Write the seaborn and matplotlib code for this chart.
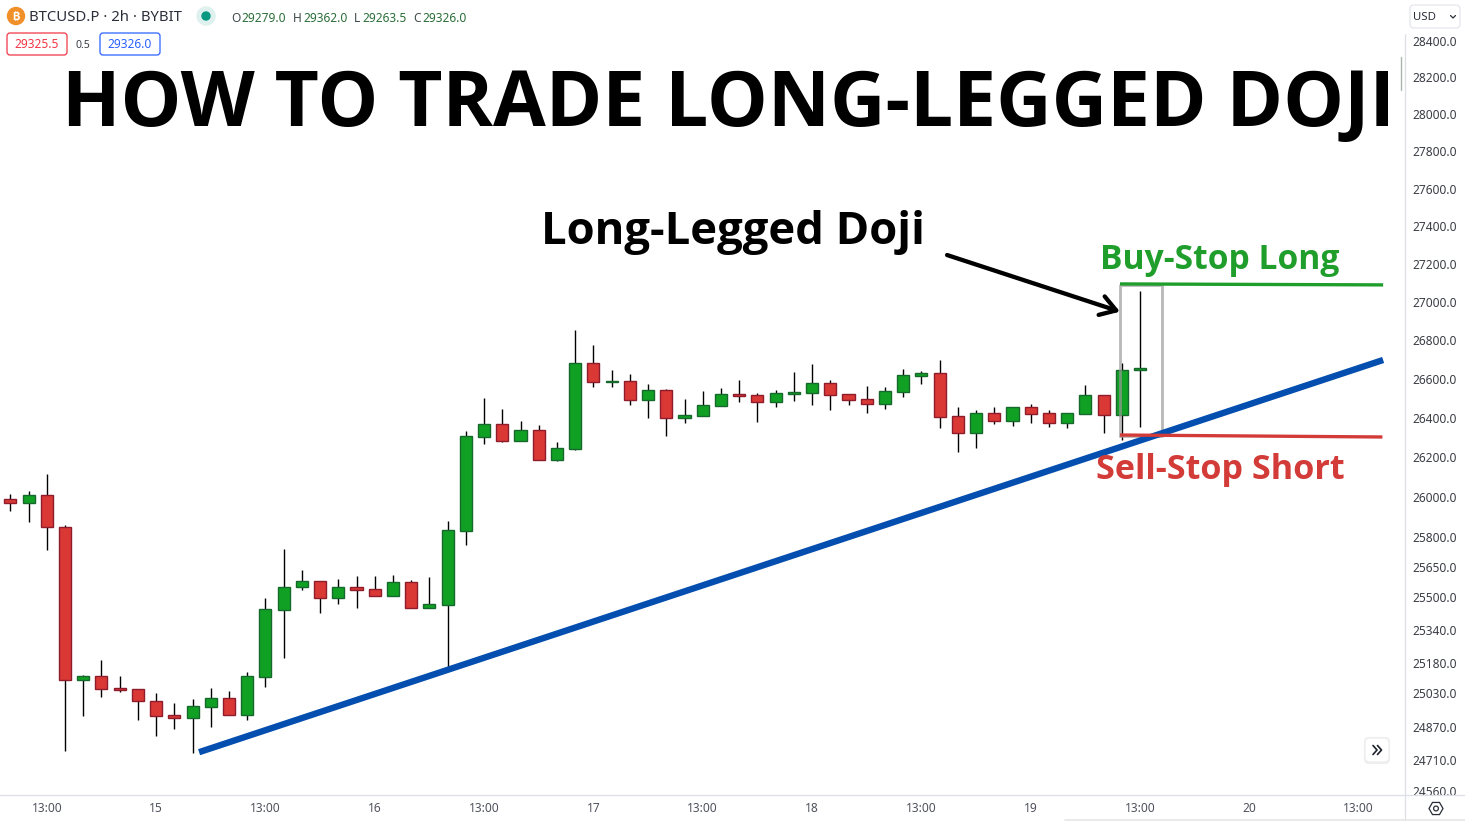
import matplotlib
matplotlib.use("Agg")
import matplotlib.pyplot as plt
from matplotlib.patches import FancyBboxPatch, Circle, RegularPolygon, Rectangle
import numpy as np
import seaborn as sns

# 2h candles, BTCUSD.P
opens = [25989, 25971.5, 26009, 25848.5, 25097, 25113, 25055, 25050, 24992, 24924, 24913, 24966, 25006, 24927, 25111, 25439,
         25550, 25580, 25495, 25550, 25540, 25505, 25575, 25446, 25464, 25831.5, 26306, 26369, 26285.5, 26338.5, 26189, 26245,
         26682, 26588, 26589.5, 26495, 26542, 26403, 26413, 26464, 26524, 26517, 26484, 26525, 26531, 26579, 26522, 26497,
         26474, 26536, 26618, 26631, 26410, 26326, 26425, 26387, 26456, 26425, 26377, 26423, 26517, 26418, 26646]
highs = [26015, 26031, 26117, 25860, 25119.5, 25192.5, 25116, 25050, 25032, 24983.5, 25003, 25056, 25041, 25134, 25497, 25740,
         25636, 25580, 25591, 25606, 25606, 25611, 25586, 25601, 25880, 26335, 26503, 26447, 26386, 26365.5, 26279, 26855,
         26777, 26648, 26627, 26575, 26549, 26498, 26539, 26555, 26596, 26529, 26545, 26637, 26679, 26596, 26522, 26565,
         26560, 26653, 26643, 26699, 26457, 26442, 26457, 26456, 26473, 26442, 26425, 26570, 26517, 26684, 27058]
lows = [25931.5, 25876.5, 25736.5, 24753.5, 24922, 25014, 25038, 24903, 24826, 24860, 24744, 24869, 24927, 24903, 25063, 25204,
        25534, 25424.5, 25469, 25449, 25505, 25505, 25446, 25446, 25157, 25761.5, 26270, 26280, 26285.5, 26189, 26184, 26240,
        26562, 26562, 26469, 26403, 26311, 26377, 26413, 26464, 26484, 26382, 26459, 26489, 26469, 26444, 26469, 26428,
        26449, 26510, 26577, 26352, 26229, 26250, 26372, 26362, 26377, 26357, 26352, 26423, 26326, 26289, 26357]
closes = [25971.5, 26009, 25848.5, 25097, 25113, 25053, 25048, 24992, 24922, 24913, 24968, 25006, 24927, 25113, 25441, 25550,
          25580, 25495, 25550, 25538, 25505, 25575, 25446, 25466, 25833.5, 26308, 26369, 26285.5, 26338.5, 26189, 26247, 26682,
          26588, 26591, 26495, 26542, 26403, 26415, 26466, 26523, 26514, 26484, 26527, 26534, 26579, 26520, 26495, 26474,
          26538, 26620, 26631, 26408, 26326, 26425, 26387, 26456, 26423, 26377, 26425, 26517, 26418, 26646, 26657]

price_ticks = [28400, 28200, 28000, 27800, 27600, 27400, 27200, 27000, 26800, 26600, 26400, 26200, 26000,
               25800, 25650, 25500, 25340, 25180, 25030, 24870, 24710, 24560]
time_ticks = [2, 8, 14, 20, 26, 32, 38, 44, 50, 56, 62, 68, 74]
time_labels = ["13:00", "15", "13:00", "16", "13:00", "17", "13:00", "18", "13:00", "19", "13:00", "20", "13:00"]

# drawn lines (candle index, price)
trend_x = [10.36, 75.34]
trend_y = [24747, 26699]
buy_x = [60.9, 75.34]
buy_y = [27095, 27090]
sell_x = [60.9, 75.3]
sell_y = [26314, 26304]
box_x = [60.9, 60.9, 63.2, 63.2, 60.9]
box_y = [26309, 27090, 27090, 26309, 26309]

GREEN = "#10a023"
GREEN_EDGE = "#17682c"
RED = "#d93835"
RED_EDGE = "#8e1c2b"
FONT = ["Noto Sans", "DejaVu Sans"]
BOLD = ["Open Sans", "DejaVu Sans"]

sns.set_theme(style="white")
plt.rcParams["font.family"] = FONT

W, H = 1465, 821
fig = plt.figure(figsize=(W / 100, H / 100), dpi=100, facecolor="white")
ax = fig.add_axes([0, (H - 795) / H, 1405 / W, 795 / H])

idx = np.arange(len(opens))
opens_a = np.array(opens)
closes_a = np.array(closes)
up = closes_a >= opens_a

ax.vlines(idx, lows, highs, color="black", linewidth=1.0, zorder=2)
body_bottom = np.minimum(opens_a, closes_a)
body_height = np.abs(closes_a - opens_a)
ax.bar(idx[up], body_height[up], bottom=body_bottom[up], width=0.66, color=GREEN,
       edgecolor=GREEN_EDGE, linewidth=1.0, zorder=3)
ax.bar(idx[~up], body_height[~up], bottom=body_bottom[~up], width=0.66, color=RED,
       edgecolor=RED_EDGE, linewidth=1.0, zorder=3)

sns.lineplot(x=box_x, y=box_y, sort=False, estimator=None, color="#9a9a9a", alpha=0.7, linewidth=2.0, ax=ax, zorder=4)
sns.lineplot(x=trend_x, y=trend_y, color="#034eae", linewidth=4.6, ax=ax, zorder=5, solid_capstyle="butt")
sns.lineplot(x=buy_x, y=buy_y, color="#1f9e2c", linewidth=2.4, ax=ax, zorder=5, solid_capstyle="butt")
sns.lineplot(x=sell_x, y=sell_y, color="#d23b38", linewidth=2.4, ax=ax, zorder=6, solid_capstyle="butt")
ax.annotate("", xy=(60.9, 26950), xytext=(51.41, 27247),
            arrowprops=dict(arrowstyle="->,head_length=0.55,head_width=0.35", color="black", lw=3.1,
                            shrinkA=0, shrinkB=0, mutation_scale=20), zorder=7)

ax.set_yscale("log")
ax.set_xlim(-0.565, 76.54)
ax.set_ylim(24542.7, 28626)
ax.yaxis.tick_right()
ax.set_yticks(price_ticks)
ax.set_yticklabels([f"{p:.1f}" for p in price_ticks])
ax.minorticks_off()
ax.set_xticks(time_ticks)
ax.set_xticklabels(time_labels)
ax.set_xlabel("")
ax.set_ylabel("")
ax.tick_params(axis="y", length=0, pad=5.6, labelsize=8.6, labelcolor="#3a3d45")
ax.tick_params(axis="x", length=0, pad=5.1, labelsize=8.6, labelcolor="#50535e")
for side in ["top", "left"]:
    ax.spines[side].set_visible(False)
for side in ["right", "bottom"]:
    ax.spines[side].set_color("#dcdfe6")
    ax.spines[side].set_linewidth(0.9)

# overlay in pixel coordinates for header, captions and buttons
ov = fig.add_axes([0, 0, 1, 1], facecolor="none")
ov.set_xlim(0, W)
ov.set_ylim(H, 0)
ov.axis("off")

ov.add_patch(Rectangle((1403, 0), 6, 33, color="white", zorder=1))
ov.add_patch(Rectangle((1406, 795.8), 60, 26, color="white", zorder=1))
ov.plot([1405, 1405], [795, 821], color="#dcdfe6", lw=0.9, zorder=2)
ov.plot([1405, 1465], [795, 795], color="#dcdfe6", lw=0.9, zorder=2)
ov.plot([1401, 1401], [57, 90], color="#a9b8ae", lw=1.0, zorder=2)
ov.plot([1065, 1465], [820, 820], color="#e6e6e6", lw=1.2, zorder=2)

ov.text(62, 126, "HOW TO TRADE LONG-LEGGED DOJI", fontsize=55.1, fontweight="bold", family=BOLD, color="black", va="baseline", ha="left")
ov.text(541, 244, "Long-Legged Doji", fontsize=32.7, fontweight="bold", family=BOLD, color="black", va="baseline", ha="left")
ov.text(1100, 269, "Buy-Stop Long", fontsize=24.2, fontweight="bold", family=BOLD, color="#1f9e2c", va="baseline", ha="left")
ov.text(1096, 479, "Sell-Stop Short", fontsize=24.6, fontweight="bold", family=BOLD, color="#d23b38", va="baseline", ha="left")

# header
ov.add_patch(Circle((16, 16), 8.5, color="#f0902a", zorder=2))
ov.text(16, 16.5, "\u20bf", fontsize=8, color="white", fontweight="bold", ha="center", va="center", family=["Inter", "DejaVu Sans"], zorder=3)
ov.text(29, 17.5, "BTCUSD.P \u00b7 2h \u00b7 BYBIT", fontsize=10.7, color="#2a2e39", va="center")
ov.add_patch(Circle((206, 16), 9, color="#dff1ee", zorder=2))
ov.add_patch(Circle((206, 16), 4, color="#0a9981", zorder=3))
for lab_x, val_x, lab, val in [(231, 241, "O", "29279.0"), (293, 303, "H", "29362.0"), (354, 362, "L", "29263.5"), (413, 422, "C", "29326.0")]:
    ov.text(lab_x, 18, lab, fontsize=8.6, color="#3f4a4a", va="center")
    ov.text(val_x, 18, val, fontsize=8.6, color="#2a6e38", va="center")
ov.add_patch(FancyBboxPatch((7, 33), 60, 22, boxstyle="round,pad=0,rounding_size=3", fc="white", ec="#f23645", lw=0.9))
ov.text(37, 45, "29325.5", fontsize=8.6, color="#f23645", ha="center", va="center")
ov.text(83, 45, "0.5", fontsize=7.6, color="#3a3d45", ha="center", va="center")
ov.add_patch(FancyBboxPatch((100, 33), 60, 22, boxstyle="round,pad=0,rounding_size=3", fc="white", ec="#2962ff", lw=0.9))
ov.text(130, 45, "29326.0", fontsize=8.6, color="#2962ff", ha="center", va="center")

# USD button
ov.add_patch(FancyBboxPatch((1410, 5), 50, 23, boxstyle="round,pad=0,rounding_size=4", fc="white", ec="#e4e6ec", lw=0.9))
ov.text(1413, 17.5, "USD", fontsize=8.2, color="#2a2e39", va="center")
ov.plot([1450.5, 1453, 1455.5], [15.5, 18, 15.5], color="#2a2e39", lw=0.9)

# scroll button
ov.add_patch(FancyBboxPatch((1365, 738), 24, 25, boxstyle="round,pad=0,rounding_size=4", fc="#eeeeee", ec="#eeeeee", lw=1.5, zorder=2))
ov.add_patch(FancyBboxPatch((1366, 739), 22, 22, boxstyle="round,pad=0,rounding_size=4", fc="white", ec="white", lw=0.5, zorder=3))
ov.plot([1373, 1377, 1373], [745.5, 750, 754.5], color="#1e222d", lw=1.2, zorder=4)
ov.plot([1377.5, 1381.5, 1377.5], [745.5, 750, 754.5], color="#1e222d", lw=1.2, zorder=4)

# settings
ov.add_patch(RegularPolygon((1436, 808.5), 6, radius=7, orientation=np.pi / 6, fc="white", ec="#2a2e39", lw=0.9, zorder=2))
ov.add_patch(Circle((1436, 808.5), 2.4, fc="white", ec="#2a2e39", lw=0.9, zorder=3))

fig.savefig("out.png", dpi=100, facecolor="white")
